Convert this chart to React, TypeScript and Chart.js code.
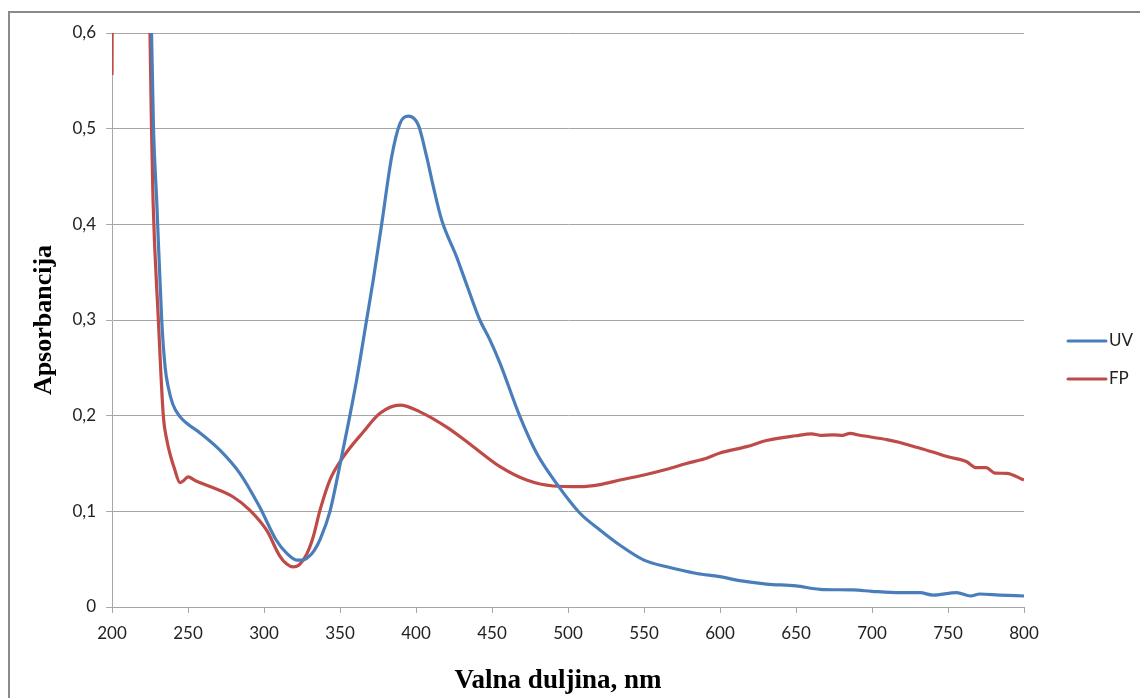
import React, { useEffect, useRef } from "react";
import { Chart, registerables } from "chart.js";

Chart.register(...registerables);

// Wavelength (nm) and absorbance for the UV series
const uvWavelengths = [222, 226, 227.3, 229.4, 232.7, 235, 237, 240, 244.7, 250, 257.9, 271, 284, 297, 308, 315, 321.5, 325, 329, 333, 337, 343.4, 348.5, 355.5, 360.9, 367.5, 371.9, 377.4, 384, 389.5, 395, 401.5, 407, 411.4, 416.9, 426.7, 434, 442, 448.7, 455.3, 468.4, 479.4, 492.5, 507.9, 521, 534, 550, 565, 584.7, 600, 613, 630.6, 650, 665.8, 687.7, 700, 718.4, 731.6, 740, 755.7, 764.7, 771, 784, 800];
const uvValues = [1.0, 0.6, 0.5, 0.425, 0.3, 0.25, 0.23, 0.212, 0.199, 0.191, 0.182, 0.164, 0.14, 0.105, 0.07, 0.056, 0.049, 0.049, 0.052, 0.059, 0.071, 0.1, 0.137, 0.192, 0.237, 0.3, 0.342, 0.4, 0.4707, 0.5056, 0.5132, 0.504, 0.4707, 0.4394, 0.4045, 0.366, 0.334, 0.3, 0.279, 0.2547, 0.199, 0.1607, 0.129, 0.098, 0.0805, 0.0648, 0.049, 0.042, 0.035, 0.0317, 0.0275, 0.024, 0.022, 0.0185, 0.0178, 0.0164, 0.015, 0.015, 0.0125, 0.015, 0.0115, 0.0136, 0.0125, 0.0115];

// Wavelength (nm) and absorbance for the FP series
const fpWavelengths = [200, 201, 212, 223, 225, 226, 227, 230.5, 233.8, 236, 238, 241, 244.7, 247, 250, 255, 264.5, 279.8, 290.8, 301.8, 310.5, 315, 319, 323, 328, 332.4, 336.8, 343.4, 352.2, 365.3, 376.3, 389.5, 402.6, 420.2, 437.7, 455.3, 472.8, 490.3, 507.9, 521, 535, 550, 565, 578, 590, 600, 617.5, 630.6, 650, 660.3, 665.8, 674.6, 681, 685.5, 692, 709.7, 718.4, 727, 731.6, 740, 750, 762, 768.7, 775, 780.9, 788.6, 800];
const fpValues = [0.556, 1.0, 1.0, 0.8, 0.6, 0.5, 0.425, 0.3, 0.199, 0.175, 0.161, 0.145, 0.13, 0.132, 0.136, 0.132, 0.126, 0.115, 0.101, 0.08, 0.053, 0.045, 0.042, 0.044, 0.055, 0.0735, 0.101, 0.133, 0.157, 0.183, 0.2025, 0.211, 0.204, 0.188, 0.1676, 0.1467, 0.1327, 0.1265, 0.1258, 0.128, 0.133, 0.138, 0.144, 0.15, 0.155, 0.161, 0.1676, 0.174, 0.179, 0.181, 0.1795, 0.18, 0.1795, 0.1815, 0.1795, 0.175, 0.172, 0.168, 0.166, 0.162, 0.157, 0.152, 0.1456, 0.1456, 0.14, 0.1397, 0.1327];

const seriesLabels = ["UV", "FP"];
const seriesColors = ["#4A7EBB", "#BE4B48"];
const xTitle = "Valna duljina, nm";
const yTitle = "Apsorbancija";

const tickFont = { family: "Lato, 'Open Sans', sans-serif", size: 17 };
const serifFamily = "'Liberation Serif', 'Times New Roman', serif";

const decorPlugin = {
  id: "sideLegendAndTitle",
  afterDraw(chart: any) {
    const ctx = chart.ctx;
    const area = chart.chartArea;
    const items = chart.data.datasets;
    const startY = 341;
    const gap = 38;
    ctx.save();
    items.forEach((ds: any, i: number) => {
      const y = startY + i * gap;
      const x0 = area.right + 44;
      ctx.strokeStyle = ds.borderColor;
      ctx.lineWidth = 3;
      ctx.lineCap = "round";
      ctx.beginPath();
      ctx.moveTo(x0, y);
      ctx.lineTo(x0 + 38, y);
      ctx.stroke();
      ctx.fillStyle = "#222";
      ctx.font = `${tickFont.size}px ${tickFont.family}`;
      ctx.textBaseline = "middle";
      ctx.textAlign = "left";
      ctx.fillText(ds.label, x0 + 41, y);
    });
    // x axis title (centred a little left of the plot centre, as in the source)
    ctx.fillStyle = "#000";
    ctx.font = `bold 27px ${serifFamily}`;
    ctx.textAlign = "center";
    ctx.textBaseline = "alphabetic";
    ctx.fillText(xTitle, (area.left + area.right) / 2 - 10, chart.height - 10);
    ctx.restore();
  },
};

export default function App() {
  const canvasRef = useRef<HTMLCanvasElement | null>(null);

  useEffect(() => {
    if (!canvasRef.current) return;
    const toPoints = (xs: number[], ys: number[]) => xs.map((x, i) => ({ x, y: ys[i] }));
    const chart = new Chart(canvasRef.current, {
      type: "line",
      data: {
        datasets: [
          {
            label: seriesLabels[0],
            data: toPoints(uvWavelengths, uvValues),
            borderColor: seriesColors[0],
            backgroundColor: seriesColors[0],
            borderWidth: 3.2,
            pointRadius: 0,
            cubicInterpolationMode: "monotone",
            clip: 0,
          },
          {
            label: seriesLabels[1],
            data: toPoints(fpWavelengths, fpValues),
            borderColor: seriesColors[1],
            backgroundColor: seriesColors[1],
            borderWidth: 3.2,
            pointRadius: 0,
            cubicInterpolationMode: "monotone",
            clip: 0,
          },
        ],
      },
      options: {
        animation: false,
        responsive: true,
        maintainAspectRatio: false,
        layout: { padding: { top: 33, right: 116, bottom: 0, left: 0 } },
        plugins: {
          legend: { display: false },
          tooltip: { enabled: false },
        },
        scales: {
          x: {
            type: "linear",
            min: 200,
            max: 800,
            afterFit: (scale: any) => {
              scale.height = 91;
            },
            ticks: {
              stepSize: 50,
              color: "#222",
              font: tickFont,
              padding: 10,
              maxRotation: 0,
            },
            grid: {
              drawOnChartArea: false,
              drawTicks: true,
              tickLength: 6,
              color: "#a6a6a6",
            },
            border: { color: "#a6a6a6", width: 1 },
            title: { display: false, text: xTitle },
          },
          y: {
            type: "linear",
            min: 0,
            max: 0.6,
            afterFit: (scale: any) => {
              scale.width = 112;
            },
            ticks: {
              stepSize: 0.1,
              color: "#222",
              font: tickFont,
              padding: 10,
              callback: (v: any) => (Number(v) === 0 ? "0" : Number(v).toFixed(1).replace(".", ",")),
            },
            grid: {
              drawTicks: true,
              tickLength: 6,
              color: "#a6a6a6",
            },
            border: { color: "#a6a6a6", width: 1 },
            title: {
              display: true,
              text: yTitle,
              color: "#000",
              font: { family: serifFamily, size: 26, weight: "bold" },
              padding: { top: 29, bottom: 0 },
            },
          },
        },
      },
      plugins: [decorPlugin],
    });
    return () => chart.destroy();
  }, []);

  return (
    <>
      <div
        style={{
          position: "fixed",
          left: 8,
          top: 11,
          width: 1132,
          height: 687,
          borderLeft: "2px solid #8a8a8a",
          borderTop: "2px solid #8a8a8a",
          boxSizing: "border-box",
        }}
      />
      <div style={{ position: "fixed", left: 0, top: 0, width: 1140, height: 698 }}>
        <canvas ref={canvasRef} />
      </div>
    </>
  );
}
